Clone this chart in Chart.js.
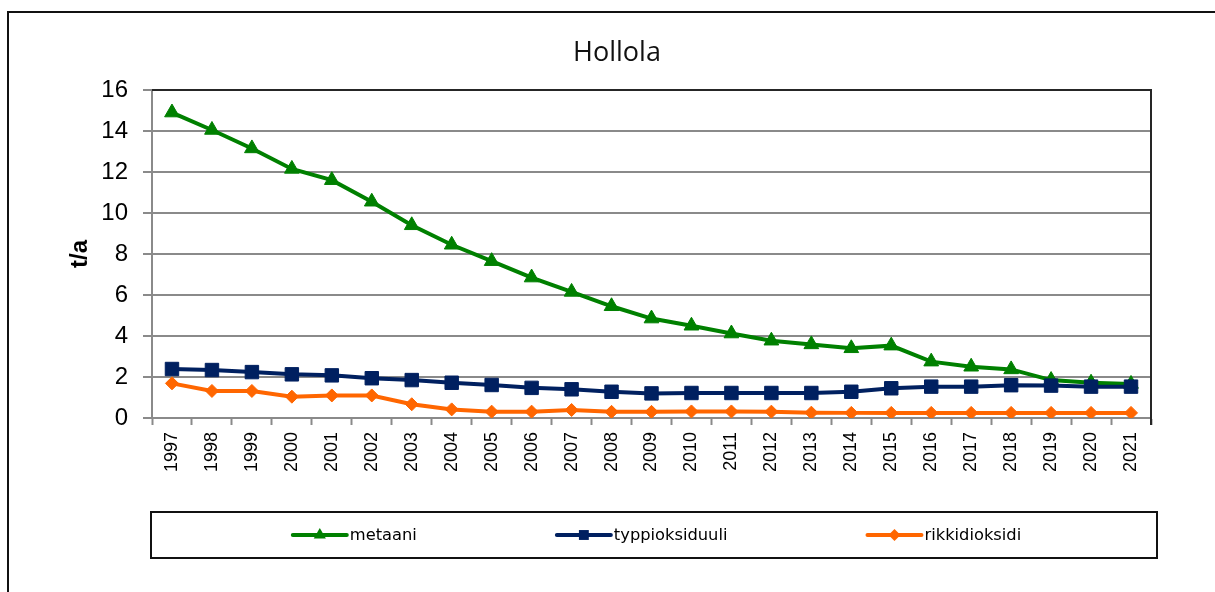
<!DOCTYPE html>
<html><head><meta charset="utf-8">
<script src="https://cdn.jsdelivr.net/npm/chart.js@4/dist/chart.umd.min.js"></script>
<style>html,body{margin:0;padding:0;background:#fff}canvas{display:block}</style>
</head><body>
<canvas id="c" width="1215" height="592"></canvas>
<script>
const years = ['1997','1998','1999','2000','2001','2002','2003','2004','2005','2006','2007','2008','2009','2010','2011','2012','2013','2014','2015','2016','2017','2018','2019','2020','2021'];
const metaani = [14.9, 14.05, 13.15, 12.15, 11.6, 10.55, 9.4, 8.45, 7.65, 6.85, 6.15, 5.45, 4.85, 4.5, 4.12, 3.77, 3.59, 3.4, 3.53, 2.75, 2.5, 2.37, 1.85, 1.72, 1.66];
const typpioksiduuli = [2.39, 2.34, 2.24, 2.13, 2.08, 1.94, 1.85, 1.72, 1.61, 1.47, 1.4, 1.28, 1.2, 1.22, 1.22, 1.22, 1.22, 1.28, 1.45, 1.53, 1.53, 1.6, 1.58, 1.53, 1.53];
const rikkidioksidi = [1.69, 1.32, 1.32, 1.04, 1.1, 1.1, 0.67, 0.42, 0.31, 0.31, 0.39, 0.3, 0.3, 0.32, 0.32, 0.31, 0.26, 0.25, 0.25, 0.25, 0.25, 0.25, 0.25, 0.25, 0.25];
const seriesNames = ['metaani', 'typpioksiduuli', 'rikkidioksidi'];
const yTickValues = [0, 2, 4, 6, 8, 10, 12, 14, 16];
const chartTitle = 'Hollola';
const yAxisTitle = 't/a';

const GRID = '#8a8a8a';
const SANS = '"Liberation Sans", Arial, sans-serif';

function drawMarker(ctx, style, x, y, r) {
  ctx.beginPath();
  if (style === 'triangle') {
    ctx.moveTo(x, y - r);
    ctx.lineTo(x + r * 0.866, y + r * 0.5);
    ctx.lineTo(x - r * 0.866, y + r * 0.5);
    ctx.closePath();
  } else if (style === 'rect') {
    const s = r * 0.7071;
    ctx.rect(x - s, y - s, 2 * s, 2 * s);
  } else {
    ctx.moveTo(x, y - r); ctx.lineTo(x + r, y); ctx.lineTo(x, y + r); ctx.lineTo(x - r, y); ctx.closePath();
  }
  ctx.fill();
}

const framePlugin = {
  id: 'frame',
  beforeDraw(chart) {
    const ctx = chart.ctx;
    ctx.save(); ctx.fillStyle = '#fff'; ctx.fillRect(0, 0, chart.width, chart.height); ctx.restore();
  },
  beforeDatasetsDraw(chart) {
    const ctx = chart.ctx, a = chart.chartArea;
    ctx.save();
    ctx.strokeStyle = '#262626'; ctx.lineWidth = 2;
    ctx.beginPath();
    ctx.moveTo(a.left, a.top); ctx.lineTo(a.right, a.top); ctx.lineTo(a.right, a.bottom + 7);
    ctx.stroke();
    ctx.restore();
  },
  afterDraw(chart) {
    const ctx = chart.ctx;
    ctx.save();
    // outer frame
    ctx.strokeStyle = '#111'; ctx.lineWidth = 2;
    ctx.strokeRect(8, 12, 1400, 900);
    // legend box
    const box = {left: 151, top: 512, right: 1157, bottom: 558};
    ctx.strokeRect(box.left, box.top, box.right - box.left, box.bottom - box.top);
    ctx.font = '16.3px "DejaVu Sans", sans-serif';
    ctx.textBaseline = 'middle';
    ctx.textAlign = 'left';
    const lineLen = 54, textGap = 3, itemGap = 140;
    const ds = chart.data.datasets;
    const widths = ds.map(d => lineLen + textGap + ctx.measureText(d.label).width);
    const total = widths.reduce((s, w) => s + w, 0) + itemGap * (ds.length - 1);
    let x = (box.left + box.right) / 2 - total / 2 + 3;
    const cy = (box.top + box.bottom) / 2;
    ds.forEach((d, i) => {
      ctx.strokeStyle = d.borderColor; ctx.lineWidth = 4; ctx.lineCap = 'round';
      ctx.beginPath(); ctx.moveTo(x, cy); ctx.lineTo(x + lineLen, cy); ctx.stroke();
      ctx.fillStyle = d.pointBackgroundColor;
      drawMarker(ctx, d.pointStyle, x + lineLen / 2, cy, d.pointStyle === 'rectRot' ? 6 : 7);
      ctx.fillStyle = '#000';
      ctx.fillText(d.label, x + lineLen + textGap, cy + 1);
      x += widths[i] + itemGap;
    });
    ctx.restore();
  }
};

const mkSet = (label, data, color, style, radius, order) => ({
  label, data,
  borderColor: color, backgroundColor: color,
  pointBackgroundColor: color, pointBorderColor: color,
  pointStyle: style, pointRadius: radius, pointBorderWidth: 1,
  borderWidth: 4, tension: 0, order, fill: false
});

new Chart(document.getElementById('c'), {
  type: 'line',
  data: {
    labels: years,
    datasets: [
      mkSet(seriesNames[0], metaani, '#008000', 'triangle', 8.5, 3),
      mkSet(seriesNames[1], typpioksiduuli, '#002060', 'rect', 9.5, 2),
      mkSet(seriesNames[2], rikkidioksidi, '#ff6600', 'rectRot', 6.5, 1)
    ]
  },
  options: {
    responsive: false,
    devicePixelRatio: 1,
    animation: false,
    layout: {padding: {left: 83, right: 64, top: 0, bottom: 0}},
    plugins: {
      legend: {display: false},
      tooltip: {enabled: false},
      title: {
        display: true, text: chartTitle, color: '#111',
        font: {family: '"Open Sans", sans-serif', size: 27, weight: 'normal'},
        padding: {top: 37, bottom: 20.6}
      }
    },
    scales: {
      x: {
        offset: true,
        grid: {offset: true, drawOnChartArea: false, drawTicks: true, tickLength: 7, tickColor: GRID, tickWidth: 2},
        border: {color: GRID, width: 2},
        ticks: {minRotation: 90, maxRotation: 90, autoSkip: false, padding: 7, color: '#000', font: {family: SANS, size: 18}},
        afterFit(s) { s.height = 174; }
      },
      y: {
        min: 0, max: 16,
        afterBuildTicks(s) { s.ticks = yTickValues.map(v => ({value: v})); },
        grid: {color: GRID, lineWidth: 2, tickLength: 9, tickColor: GRID, tickWidth: 2},
        border: {color: GRID, width: 2},
        ticks: {padding: 15, color: '#000', font: {family: SANS, size: 24}},
        title: {display: true, text: yAxisTitle, color: '#000', font: {family: SANS, size: 24, weight: 'bold'}, padding: {top: -17.4, bottom: 0}},
        afterFit(s) { s.width = 69; }
      }
    }
  },
  plugins: [framePlugin]
});
</script>
</body></html>
